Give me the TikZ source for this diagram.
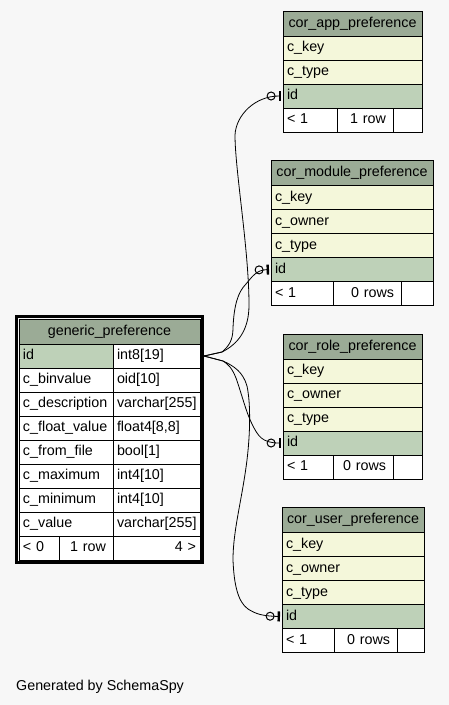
\documentclass[tikz,border=0pt]{standalone}
\usepackage{fontspec}
\setmainfont{Liberation Sans}
\usepackage{tikz}
\usetikzlibrary{fit}
\usetikzlibrary{arrows.meta}

\definecolor{hdrgreen}{HTML}{9BAB96}
\definecolor{pkgreen}{HTML}{BED1B8}
\definecolor{idxyellow}{HTML}{F4F7DA}
\definecolor{bggrey}{HTML}{F7F7F7}

\begin{document}
\begin{tikzpicture}[x=1pt, y=-1pt, font=\fontsize{14.3}{16}\selectfont,
        cell/.style={draw=black, line width=0.8pt, anchor=north west, outer sep=0pt, inner xsep=4pt, inner ysep=0pt, minimum height=24pt, text height=10pt, text depth=3pt, align=left},
        hdr/.style={cell, fill=hdrgreen, align=center, minimum height=25pt},
        pk/.style={cell, fill=pkgreen},
        idx/.style={cell, fill=idxyellow},
        col/.style={cell, fill=white},
        rows/.style={cell, fill=white, align=right, inner xsep=7pt},
        fk/.style={line width=0.8pt, -{Circle[open, length=9pt, width=9pt, line width=1pt, sep=3pt]Bar[width=10pt, line width=2.4pt]}}]
        \useasboundingbox (0,0) rectangle (449,705);
        \fill[bggrey] (0,0) rectangle (449,705);

        % generic_preference
        \node(gh) [hdr, text width=173pt] at (19, 319) {generic\_preference};
        \node(g1) [pk, text width=86pt] at (gh.south west) {id};
        \node(g1t) [col, text width=79pt] at (g1.north east) {int8[19]};
        \node(g2) [col, text width=86pt] at (g1.south west) {c\_binvalue};
        \node(g2t) [col, text width=79pt] at (g2.north east) {oid[10]};
        \node(g3) [col, text width=86pt] at (g2.south west) {c\_description};
        \node(g3t) [col, text width=79pt] at (g3.north east) {varchar[255]};
        \node(g4) [col, text width=86pt] at (g3.south west) {c\_float\_value};
        \node(g4t) [col, text width=79pt] at (g4.north east) {float4[8,8]};
        \node(g5) [col, text width=86pt] at (g4.south west) {c\_from\_file};
        \node(g5t) [col, text width=79pt] at (g5.north east) {bool[1]};
        \node(g6) [col, text width=86pt] at (g5.south west) {c\_maximum};
        \node(g6t) [col, text width=79pt] at (g6.north east) {int4[10]};
        \node(g7) [col, text width=86pt] at (g6.south west) {c\_minimum};
        \node(g7t) [col, text width=79pt] at (g7.north east) {int4[10]};
        \node(g8) [col, text width=86pt] at (g7.south west) {c\_value};
        \node(g8t) [col, text width=79pt] at (g8.north east) {varchar[255]};
        \node(gf1) [col, text width=32pt] at (g8.south west) {< 0};
        \node(gf2) [rows, text width=40pt] at (gf1.north east) {1 row};
        \node(gf3) [col, align=right, text width=79pt] at (gf2.north east) {4 >};
        \node(gframe) [draw=black, line width=3pt, inner sep=2.5pt, fit=(gh)(gf3)] {};

        % cor_app_preference
        \node(ah) [hdr, text width=131pt] at (283, 11) {cor\_app\_preference};
        \node(a1) [idx, text width=131pt] at (ah.south west) {c\_key};
        \node(a2) [idx, text width=131pt] at (a1.south west) {c\_type};
        \node(a3) [pk, text width=131pt] at (a2.south west) {id};
        \node(af1) [col, text width=46pt] at (a3.south west) {< 1};
        \node(af2) [rows, text width=42pt] at (af1.north east) {1 row};
        \node(af3) [col, text width=21pt] at (af2.north east) {};

        % cor_module_preference
        \node(mh) [hdr, text width=154pt] at (271, 160.5) {cor\_module\_preference};
        \node(m1) [idx, text width=154pt] at (mh.south west) {c\_key};
        \node(m2) [idx, text width=154pt] at (m1.south west) {c\_owner};
        \node(m3) [idx, text width=154pt] at (m2.south west) {c\_type};
        \node(m4) [pk, text width=154pt] at (m3.south west) {id};
        \node(mf1) [col, text width=54pt] at (m4.south west) {< 1};
        \node(mf2) [rows, text width=54pt] at (mf1.north east) {0 rows};
        \node(mf3) [col, text width=24pt] at (mf2.north east) {};

        % cor_role_preference
        \node(rh) [hdr, text width=131pt] at (283, 334) {cor\_role\_preference};
        \node(r1) [idx, text width=131pt] at (rh.south west) {c\_key};
        \node(r2) [idx, text width=131pt] at (r1.south west) {c\_owner};
        \node(r3) [idx, text width=131pt] at (r2.south west) {c\_type};
        \node(r4) [pk, text width=131pt] at (r3.south west) {id};
        \node(rf1) [col, text width=42pt] at (r4.south west) {< 1};
        \node(rf2) [rows, text width=46pt] at (rf1.north east) {0 rows};
        \node(rf3) [col, text width=21pt] at (rf2.north east) {};

        % cor_user_preference
        \node(uh) [hdr, text width=134pt] at (282, 507.5) {cor\_user\_preference};
        \node(u1) [idx, text width=134pt] at (uh.south west) {c\_key};
        \node(u2) [idx, text width=134pt] at (u1.south west) {c\_owner};
        \node(u3) [idx, text width=134pt] at (u2.south west) {c\_type};
        \node(u4) [pk, text width=134pt] at (u3.south west) {id};
        \node(uf1) [col, text width=44pt] at (u4.south west) {< 1};
        \node(uf2) [rows, text width=49pt] at (uf1.north east) {0 rows};
        \node(uf3) [col, text width=19pt] at (uf2.north east) {};

        \node(credit) [anchor=base west, inner sep=0pt] at (16, 690.5) {Generated by SchemaSpy};

        \draw[fk] (gframe.east |- g1t.east) -- (222,352) .. controls (238,344) and (249,330) .. (249,305) .. controls (249,250) and (235,170) .. (235,135) .. controls (236,115) and (255,96) .. ([xshift=-2pt]a3.west);
        \draw[fk] (gframe.east |- g1t.east) -- (222,352) .. controls (229,346) and (233,340) .. (233,328) .. controls (234,305) and (238,292) .. (246,284) .. controls (252,277) and (256,270) .. ([xshift=-2pt]m4.west);
        \draw[fk] (gframe.east |- g1t.east) -- (223,361) .. controls (228,364) and (232,368) .. (236,378) .. controls (242,395) and (246,412) .. (252,424) .. controls (258,436) and (262,443) .. ([xshift=-2pt]r4.west);
        \draw[fk] (gframe.east |- g1t.east) -- (223,361) .. controls (234,366) and (243,372) .. (247,386) .. controls (251,405) and (250,435) .. (247,460) .. controls (242,500) and (233,530) .. (233,560) .. controls (234,585) and (238,602) .. (248,609) .. controls (256,614) and (262,616) .. ([xshift=-2pt]u4.west);
\end{tikzpicture}
\end{document}
